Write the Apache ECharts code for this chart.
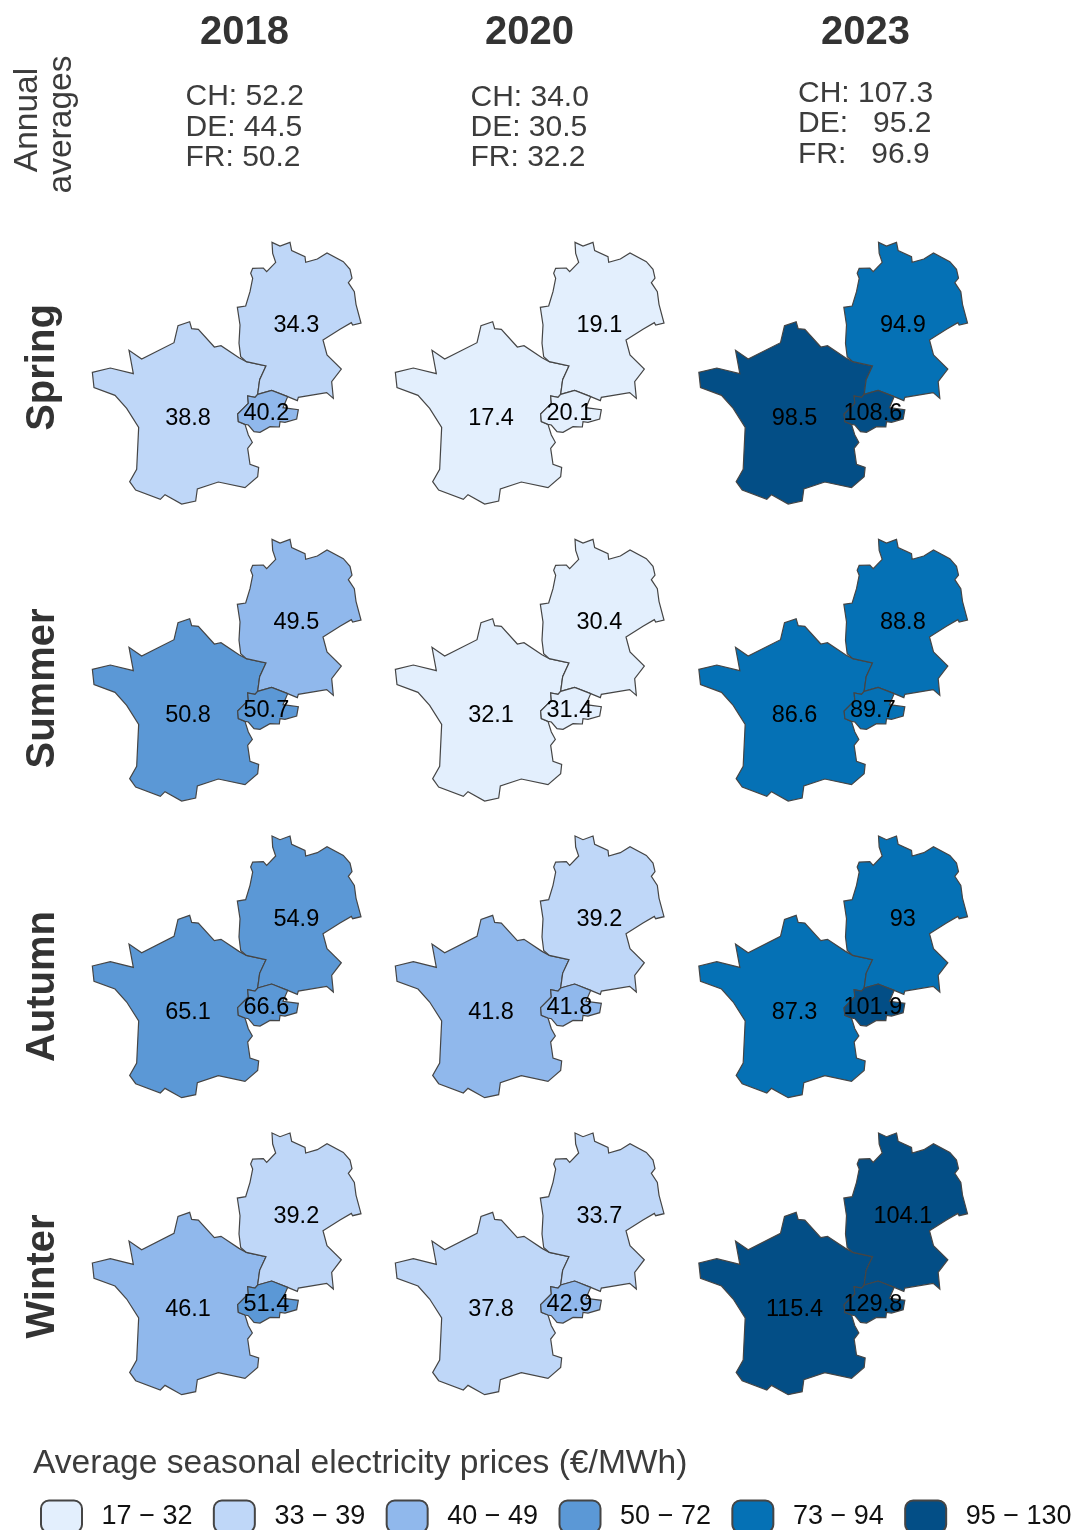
<!DOCTYPE html>
<html>
<head>
<meta charset="utf-8">
<style>html,body{margin:0;padding:0;background:#fff;overflow:hidden}#c{width:1075px;height:1530px}</style>
<script src="https://cdn.jsdelivr.net/npm/echarts@6/dist/echarts.min.js"></script>
</head>
<body>
<div id="c"></div>
<script>
var years = ['2018', '2020', '2023'];
var seasons = ['Spring', 'Summer', 'Autumn', 'Winter'];
var countries = ['Germany', 'France', 'Switzerland'];

// seasonal prices: one row per season, one triple [DE, FR, CH] per year
var spring = [[34.3, 38.8, 40.2], [19.1, 17.4, 20.1], [94.9, 98.5, 108.6]];
var summer = [[49.5, 50.8, 50.7], [30.4, 32.1, 31.4], [88.8, 86.6, 89.7]];
var autumn = [[54.9, 65.1, 66.6], [39.2, 41.8, 41.8], [93, 87.3, 101.9]];
var winter = [[39.2, 46.1, 51.4], [33.7, 37.8, 42.9], [104.1, 115.4, 129.8]];

var annualCH = ['CH: 52.2', 'CH: 34.0', 'CH: 107.3'];
var annualDE = ['DE: 44.5', 'DE: 30.5', 'DE:   95.2'];
var annualFR = ['FR: 50.2', 'FR: 32.2', 'FR:   96.9'];

var binLabels = ['17 \u2212 32', '33 \u2212 39', '40 \u2212 49', '50 \u2212 72', '73 \u2212 94', '95 \u2212 130'];
var binStarts = [17, 33, 40, 50, 73, 95];
var binEnds = [33, 40, 50, 73, 95, 131];
var binColors = ['#e3effd', '#bfd7f8', '#90b8ec', '#5b98d6', '#0571b5', '#034e86'];

// Simplified country outlines, drawn as map geometry (units: third of a pixel, y down)
var outlineFR = [[22,412],[76,399],[145,416],[132,346],[170,372],[267,323],[279,272],[314,260],[320,281],[340,283],[388,336],[408,332],[462,368],[484,380],[543,393],[524,434],[518,478],[510,487],[488,483],[490,505],[458,537],[460,560],[480,568],[490,600],[502,622],[488,640],[495,688],[521,697],[518,725],[480,758],[400,741],[337,762],[332,798],[290,807],[240,779],[226,793],[152,765],[134,740],[155,703],[161,577],[125,520],[90,481],[27,458]];
var outlineDE = [[561,22],[585,33],[615,22],[620,47],[660,65],[662,82],[697,72],[726,54],[775,80],[795,103],[801,129],[790,143],[808,170],[813,208],[828,264],[803,270],[799,263],[765,283],[714,315],[726,360],[769,402],[740,440],[745,490],[725,473],[640,487],[637,497],[608,485],[560,466],[518,478],[524,434],[543,393],[484,380],[467,365],[462,325],[465,270],[457,217],[482,213],[495,170],[503,130],[497,115],[503,100],[535,99],[545,110],[572,82],[563,55]];
var outlineCH = [[518,478],[560,466],[608,485],[594,518],[640,524],[635,552],[600,562],[585,560],[583,576],[555,575],[525,592],[507,590],[490,570],[480,568],[460,560],[458,537],[490,505],[488,483],[510,487]];
var labelAnchors = [[634,272], [309,552], [544,536]];

var seasonRows = [spring, summer, autumn, winter];
var outlines = [outlineDE, outlineFR, outlineCH];
var FONT = '"Liberation Sans", Arial, sans-serif';

function feature(i) {
  var ring = outlines[i].map(function (p) { return [p[0], -p[1]]; });
  ring.push(ring[0]);
  return {
    type: 'Feature',
    properties: { name: countries[i], cp: [labelAnchors[i][0], -labelAnchors[i][1]] },
    geometry: { type: 'Polygon', coordinates: [ring] }
  };
}
var drawOrder = [1, 0, 2];
var geo = { type: 'FeatureCollection', features: drawOrder.map(feature) };

var minX = 22, maxX = 828, minY = 22, maxY = 807;
var colOrigins = [85, 388, 691.5];
var rowOrigins = [235, 532, 828.7, 1125.7];

var series = [];
seasonRows.forEach(function (row, r) {
  row.forEach(function (vals, c) {
    var name = 'panel' + r + '_' + c;
    echarts.registerMap(name, geo);
    series.push({
      type: 'map',
      map: name,
      name: name,
      aspectScale: 1,
      silent: true,
      showLegendSymbol: false,
      left: colOrigins[c] + minX / 3,
      top: rowOrigins[r] + minY / 3,
      width: (maxX - minX) / 3,
      height: (maxY - minY) / 3,
      selectedMode: false,
      itemStyle: { borderColor: '#454545', borderWidth: 1.2 },
      label: { show: true, formatter: '{c}', fontFamily: FONT, fontSize: 23.5, color: '#000' },
      emphasis: { disabled: true },
      data: countries.map(function (n, i) { return { name: n, value: vals[i] }; })
    });
  });
});
var mapCount = series.length;

// off-canvas series whose only job is to feed the legend
series.push({
  type: 'pie',
  silent: true,
  radius: [0, 0],
  center: [-200, -200],
  label: { show: false },
  labelLine: { show: false },
  data: binLabels.map(function (b, i) {
    return { name: b, value: 1, itemStyle: { color: binColors[i] } };
  })
});

var graphics = [];
function txt(text, x, y, size, weight, fill, align, rot) {
  graphics.push({
    type: 'text', x: x, y: y, rotation: rot || 0, silent: true,
    style: {
      text: text, fill: fill,
      font: (weight ? weight + ' ' : '') + size + 'px ' + FONT,
      textAlign: align, textVerticalAlign: 'middle'
    }
  });
}
var yearX = [244.5, 529.5, 865.5];
var annualX = [185.5, 470.5, 798];
var annualY = [[97, 128, 158], [98, 128, 158], [94, 124, 155]];
years.forEach(function (y, i) {
  txt(y, yearX[i], 32.5, 40, 'bold', '#333', 'center');
  txt(annualCH[i], annualX[i], annualY[i][0], 30, '', '#3c3c3c', 'left');
  txt(annualDE[i], annualX[i], annualY[i][1], 30, '', '#3c3c3c', 'left');
  txt(annualFR[i], annualX[i], annualY[i][2], 30, '', '#3c3c3c', 'left');
});
var seasonY = [367.5, 688.5, 986.5, 1276.5];
seasons.forEach(function (s, i) {
  txt(s, 43, seasonY[i], 40, 'bold', '#333', 'center', Math.PI / 2);
});
txt('Annual', 28, 120, 33.5, '', '#3c3c3c', 'center', Math.PI / 2);
txt('averages', 62, 124.5, 33.5, '', '#3c3c3c', 'center', Math.PI / 2);
txt('Average seasonal electricity prices (\u20ac/MWh)', 33, 1464, 33.6, '', '#3c3c3c', 'left');

var chart = echarts.init(document.getElementById('c'), null, { renderer: 'canvas' });
chart.setOption({
  animation: false,
  backgroundColor: '#fff',
  visualMap: {
    show: false,
    type: 'piecewise',
    seriesIndex: series.slice(0, mapCount).map(function (_, i) { return i; }),
    pieces: binLabels.map(function (b, i) {
      return { gte: binStarts[i], lt: binEnds[i], color: binColors[i], label: b };
    })
  },
  legend: {
    data: binLabels,
    left: 40,
    top: 1499.5,
    padding: 0,
    width: 1100,
    orient: 'horizontal',
    icon: 'roundRect',
    itemWidth: 41,
    itemHeight: 32,
    itemGap: 20.4,
    selectedMode: false,
    itemStyle: { borderColor: '#454545', borderWidth: 2 },
    textStyle: { fontFamily: FONT, fontSize: 27, color: '#111', padding: [0, 0, 0, 14.6] }
  },
  graphic: graphics,
  series: series
});
</script>
</body>
</html>
